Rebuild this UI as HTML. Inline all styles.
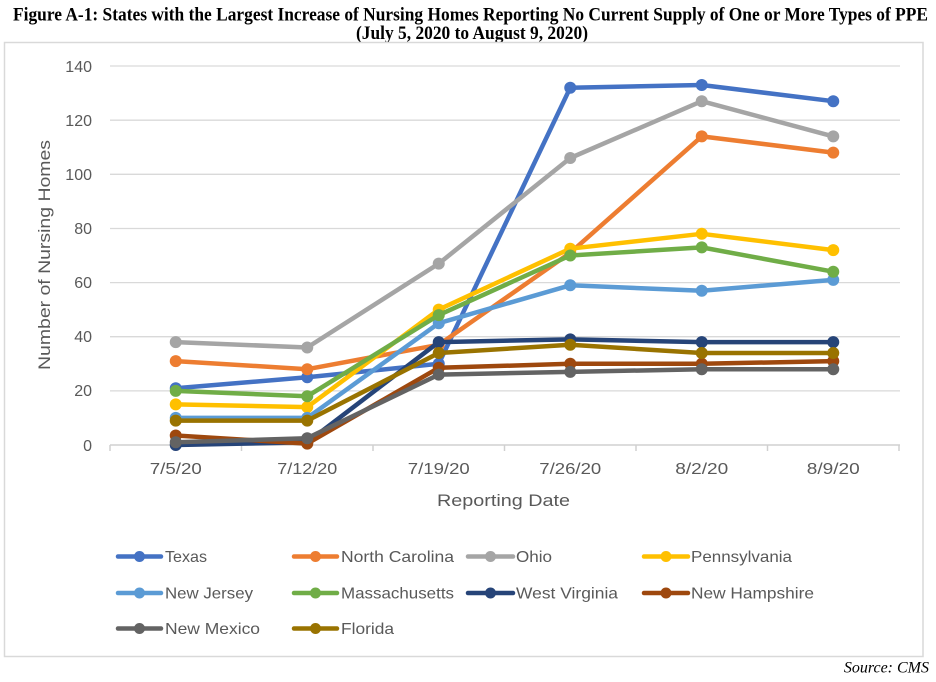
<!DOCTYPE html>
<html>
<head>
<meta charset="utf-8">
<style>
html,body{margin:0;padding:0;background:#fff;}
svg{display:block;}
</style>
</head>
<body>
<svg width="936" height="682" viewBox="0 0 936 682" xmlns="http://www.w3.org/2000/svg">
<rect x="0" y="0" width="936" height="682" fill="#fff"/>
<!-- Title -->
<text x="13" y="20.5" font-family="Liberation Serif, serif" font-weight="bold" font-size="19" fill="#000" textLength="915" lengthAdjust="spacingAndGlyphs">Figure A-1: States with the Largest Increase of Nursing Homes Reporting No Current Supply of One or More Types of PPE</text>
<text x="356" y="39" font-family="Liberation Serif, serif" font-weight="bold" font-size="19" fill="#000" textLength="232" lengthAdjust="spacingAndGlyphs">(July 5, 2020 to August 9, 2020)</text>

<!-- Chart box -->
<rect x="4.5" y="42.5" width="918.5" height="614" fill="#fff" stroke="#d9d9d9" stroke-width="1.5"/>

<!-- Gridlines -->
<g stroke="#d9d9d9" stroke-width="1.3">
<line x1="110" y1="66" x2="900" y2="66"/>
<line x1="110" y1="120.2" x2="900" y2="120.2"/>
<line x1="110" y1="174.3" x2="900" y2="174.3"/>
<line x1="110" y1="228.5" x2="900" y2="228.5"/>
<line x1="110" y1="282.6" x2="900" y2="282.6"/>
<line x1="110" y1="336.7" x2="900" y2="336.7"/>
<line x1="110" y1="390.9" x2="900" y2="390.9"/>
</g>
<!-- X axis -->
<g stroke="#d0d0d0" stroke-width="1.5">
<line x1="110" y1="445" x2="900" y2="445"/>
<line x1="110" y1="445" x2="110" y2="451"/>
<line x1="241.5" y1="445" x2="241.5" y2="451"/>
<line x1="373" y1="445" x2="373" y2="451"/>
<line x1="504.5" y1="445" x2="504.5" y2="451"/>
<line x1="636" y1="445" x2="636" y2="451"/>
<line x1="767.5" y1="445" x2="767.5" y2="451"/>
<line x1="899" y1="445" x2="899" y2="451"/>
</g>

<!-- Y tick labels -->
<g font-family="Liberation Sans, sans-serif" font-size="16" fill="#595959" text-anchor="end">
<text x="92" y="72">140</text>
<text x="92" y="126">120</text>
<text x="92" y="180">100</text>
<text x="92" y="234">80</text>
<text x="92" y="288">60</text>
<text x="92" y="342">40</text>
<text x="92" y="396">20</text>
<text x="92" y="451">0</text>
</g>
<!-- Y title -->
<text transform="translate(50,255) rotate(-90)" font-family="Liberation Sans, sans-serif" font-size="17" fill="#595959" text-anchor="middle" textLength="230" lengthAdjust="spacingAndGlyphs">Number of Nursing Homes</text>

<!-- X tick labels -->
<g font-family="Liberation Sans, sans-serif" font-size="16" fill="#595959" text-anchor="middle">
<text x="175.75" y="474" textLength="52" lengthAdjust="spacingAndGlyphs">7/5/20</text>
<text x="307.25" y="474" textLength="60" lengthAdjust="spacingAndGlyphs">7/12/20</text>
<text x="438.75" y="474" textLength="62" lengthAdjust="spacingAndGlyphs">7/19/20</text>
<text x="570.25" y="474" textLength="62" lengthAdjust="spacingAndGlyphs">7/26/20</text>
<text x="701.75" y="474" textLength="53" lengthAdjust="spacingAndGlyphs">8/2/20</text>
<text x="833.25" y="474" textLength="53" lengthAdjust="spacingAndGlyphs">8/9/20</text>
</g>
<text x="503.5" y="506" font-family="Liberation Sans, sans-serif" font-size="17" fill="#595959" text-anchor="middle" textLength="133" lengthAdjust="spacingAndGlyphs">Reporting Date</text>

<!-- Series -->
<g fill="none" stroke-width="4.5" stroke-linejoin="round" stroke-linecap="round">
<polyline stroke="#4472C4" points="175.75,388.2 307.25,377.3 438.75,363.8 570.25,87.7 701.75,85 833.25,101.2"/>
<g fill="#4472C4" stroke="none"><circle cx="175.75" cy="388.2" r="6"/><circle cx="307.25" cy="377.3" r="6"/><circle cx="438.75" cy="363.8" r="6"/><circle cx="570.25" cy="87.7" r="6"/><circle cx="701.75" cy="85" r="6"/><circle cx="833.25" cy="101.2" r="6"/></g>
<polyline stroke="#ED7D31" points="175.75,361.1 307.25,369.2 438.75,344.8 570.25,252.8 701.75,136.4 833.25,152.6"/>
<g fill="#ED7D31" stroke="none"><circle cx="175.75" cy="361.1" r="6"/><circle cx="307.25" cy="369.2" r="6"/><circle cx="438.75" cy="344.8" r="6"/><circle cx="570.25" cy="252.8" r="6"/><circle cx="701.75" cy="136.4" r="6"/><circle cx="833.25" cy="152.6" r="6"/></g>
<polyline stroke="#A5A5A5" points="175.75,342.1 307.25,347.5 438.75,263.6 570.25,158 701.75,101.2 833.25,136.4"/>
<g fill="#A5A5A5" stroke="none"><circle cx="175.75" cy="342.1" r="6"/><circle cx="307.25" cy="347.5" r="6"/><circle cx="438.75" cy="263.6" r="6"/><circle cx="570.25" cy="158" r="6"/><circle cx="701.75" cy="101.2" r="6"/><circle cx="833.25" cy="136.4" r="6"/></g>
<polyline stroke="#FFC000" points="175.75,404.4 307.25,407.1 438.75,309.6 570.25,248.7 701.75,233.8 833.25,250.1"/>
<g fill="#FFC000" stroke="none"><circle cx="175.75" cy="404.4" r="6"/><circle cx="307.25" cy="407.1" r="6"/><circle cx="438.75" cy="309.6" r="6"/><circle cx="570.25" cy="248.7" r="6"/><circle cx="701.75" cy="233.8" r="6"/><circle cx="833.25" cy="250.1" r="6"/></g>
<polyline stroke="#5B9BD5" points="175.75,417.9 307.25,417.9 438.75,323.2 570.25,285.3 701.75,290.7 833.25,279.9"/>
<g fill="#5B9BD5" stroke="none"><circle cx="175.75" cy="417.9" r="6"/><circle cx="307.25" cy="417.9" r="6"/><circle cx="438.75" cy="323.2" r="6"/><circle cx="570.25" cy="285.3" r="6"/><circle cx="701.75" cy="290.7" r="6"/><circle cx="833.25" cy="279.9" r="6"/></g>
<polyline stroke="#70AD47" points="175.75,390.9 307.25,396.3 438.75,315.1 570.25,255.5 701.75,247.4 833.25,271.7"/>
<g fill="#70AD47" stroke="none"><circle cx="175.75" cy="390.9" r="6"/><circle cx="307.25" cy="396.3" r="6"/><circle cx="438.75" cy="315.1" r="6"/><circle cx="570.25" cy="255.5" r="6"/><circle cx="701.75" cy="247.4" r="6"/><circle cx="833.25" cy="271.7" r="6"/></g>
<polyline stroke="#264478" points="175.75,445 307.25,442.3 438.75,342.1 570.25,339.4 701.75,342.1 833.25,342.1"/>
<g fill="#264478" stroke="none"><circle cx="175.75" cy="445" r="6"/><circle cx="307.25" cy="442.3" r="6"/><circle cx="438.75" cy="342.1" r="6"/><circle cx="570.25" cy="339.4" r="6"/><circle cx="701.75" cy="342.1" r="6"/><circle cx="833.25" cy="342.1" r="6"/></g>
<polyline stroke="#9E480E" points="175.75,435.5 307.25,443.6 438.75,367.8 570.25,363.8 701.75,363.8 833.25,361.1"/>
<g fill="#9E480E" stroke="none"><circle cx="175.75" cy="435.5" r="6"/><circle cx="307.25" cy="443.6" r="6"/><circle cx="438.75" cy="367.8" r="6"/><circle cx="570.25" cy="363.8" r="6"/><circle cx="701.75" cy="363.8" r="6"/><circle cx="833.25" cy="361.1" r="6"/></g>
<polyline stroke="#636363" points="175.75,442.3 307.25,438.2 438.75,374.6 570.25,371.9 701.75,369.2 833.25,369.2"/>
<g fill="#636363" stroke="none"><circle cx="175.75" cy="442.3" r="6"/><circle cx="307.25" cy="438.2" r="6"/><circle cx="438.75" cy="374.6" r="6"/><circle cx="570.25" cy="371.9" r="6"/><circle cx="701.75" cy="369.2" r="6"/><circle cx="833.25" cy="369.2" r="6"/></g>
<polyline stroke="#997300" points="175.75,420.6 307.25,420.6 438.75,353 570.25,344.8 701.75,353 833.25,353"/>
<g fill="#997300" stroke="none"><circle cx="175.75" cy="420.6" r="6"/><circle cx="307.25" cy="420.6" r="6"/><circle cx="438.75" cy="353" r="6"/><circle cx="570.25" cy="344.8" r="6"/><circle cx="701.75" cy="353" r="6"/><circle cx="833.25" cy="353" r="6"/></g>
</g>

<!-- Legend -->
<g stroke-width="4.5" stroke-linecap="round">
<line x1="118" y1="556.5" x2="161" y2="556.5" stroke="#4472C4"/>
<line x1="294" y1="556.5" x2="337" y2="556.5" stroke="#ED7D31"/>
<line x1="468" y1="556.5" x2="513" y2="556.5" stroke="#A5A5A5"/>
<line x1="644" y1="556.5" x2="688" y2="556.5" stroke="#FFC000"/>
<line x1="118" y1="593" x2="161" y2="593" stroke="#5B9BD5"/>
<line x1="294" y1="593" x2="337" y2="593" stroke="#70AD47"/>
<line x1="468" y1="593" x2="513" y2="593" stroke="#264478"/>
<line x1="644" y1="593" x2="688" y2="593" stroke="#9E480E"/>
<line x1="118" y1="628.5" x2="161" y2="628.5" stroke="#636363"/>
<line x1="294" y1="628.5" x2="337" y2="628.5" stroke="#997300"/>
</g>
<g stroke="none">
<circle cx="139.5" cy="556.5" r="5.5" fill="#4472C4"/>
<circle cx="315.5" cy="556.5" r="5.5" fill="#ED7D31"/>
<circle cx="490.5" cy="556.5" r="5.5" fill="#A5A5A5"/>
<circle cx="666" cy="556.5" r="5.5" fill="#FFC000"/>
<circle cx="139.5" cy="593" r="5.5" fill="#5B9BD5"/>
<circle cx="315.5" cy="593" r="5.5" fill="#70AD47"/>
<circle cx="490.5" cy="593" r="5.5" fill="#264478"/>
<circle cx="666" cy="593" r="5.5" fill="#9E480E"/>
<circle cx="139.5" cy="628.5" r="5.5" fill="#636363"/>
<circle cx="315.5" cy="628.5" r="5.5" fill="#997300"/>
</g>
<g font-family="Liberation Sans, sans-serif" font-size="16" fill="#595959">
<text x="165" y="562" textLength="42" lengthAdjust="spacingAndGlyphs">Texas</text>
<text x="341" y="562" textLength="113" lengthAdjust="spacingAndGlyphs">North Carolina</text>
<text x="516" y="562" textLength="36" lengthAdjust="spacingAndGlyphs">Ohio</text>
<text x="691" y="562" textLength="101" lengthAdjust="spacingAndGlyphs">Pennsylvania</text>
<text x="165" y="598.5" textLength="88" lengthAdjust="spacingAndGlyphs">New Jersey</text>
<text x="341" y="598.5" textLength="113" lengthAdjust="spacingAndGlyphs">Massachusetts</text>
<text x="516" y="598.5" textLength="102" lengthAdjust="spacingAndGlyphs">West Virginia</text>
<text x="691" y="598.5" textLength="123" lengthAdjust="spacingAndGlyphs">New Hampshire</text>
<text x="165" y="634" textLength="95" lengthAdjust="spacingAndGlyphs">New Mexico</text>
<text x="341" y="634" textLength="53" lengthAdjust="spacingAndGlyphs">Florida</text>
</g>

<!-- Source -->
<text x="929" y="672.5" font-family="Liberation Serif, serif" font-style="italic" font-size="16" fill="#000" text-anchor="end">Source: CMS</text>
</svg>
</body>
</html>
